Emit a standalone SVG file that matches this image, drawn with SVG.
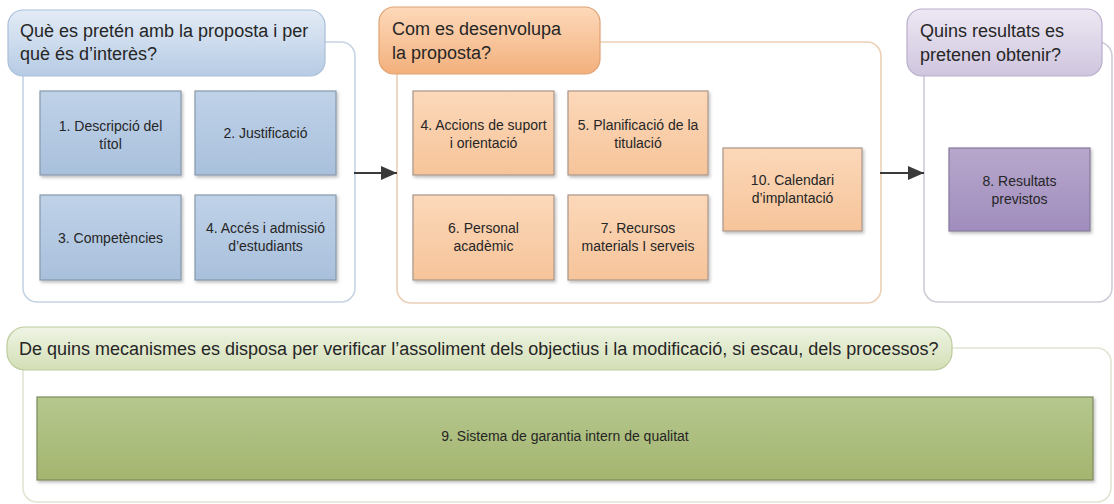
<svg xmlns="http://www.w3.org/2000/svg" width="1114" height="504" viewBox="0 0 1114 504">
<defs>
  <linearGradient id="gBlueH" x1="0" y1="0" x2="0" y2="1"><stop offset="0" stop-color="#e3ecf6"/><stop offset="1" stop-color="#b6cbe4"/></linearGradient>
  <linearGradient id="gOrgH" x1="0" y1="0" x2="0" y2="1"><stop offset="0" stop-color="#fdd9ba"/><stop offset="1" stop-color="#f3b07c"/></linearGradient>
  <linearGradient id="gPurH" x1="0" y1="0" x2="0" y2="1"><stop offset="0" stop-color="#ede8f3"/><stop offset="1" stop-color="#cfc5de"/></linearGradient>
  <linearGradient id="gGrnH" x1="0" y1="0" x2="0" y2="1"><stop offset="0" stop-color="#eff4e4"/><stop offset="1" stop-color="#d3dfb6"/></linearGradient>
  <linearGradient id="gBlueB" x1="0" y1="0" x2="0" y2="1"><stop offset="0" stop-color="#bfd2e8"/><stop offset="1" stop-color="#a9c0dc"/></linearGradient>
  <linearGradient id="gOrgB" x1="0" y1="0" x2="0" y2="1"><stop offset="0" stop-color="#fcd8b9"/><stop offset="1" stop-color="#f6c49a"/></linearGradient>
  <linearGradient id="gPurB" x1="0" y1="0" x2="0" y2="1"><stop offset="0" stop-color="#b7a7cb"/><stop offset="1" stop-color="#a08dbe"/></linearGradient>
  <linearGradient id="gGrnB" x1="0" y1="0" x2="0" y2="1"><stop offset="0" stop-color="#b6c78f"/><stop offset="1" stop-color="#a3b56e"/></linearGradient>
  <filter id="sh" x="-10%" y="-10%" width="120%" height="130%">
    <feDropShadow dx="1.5" dy="2" stdDeviation="1.5" flood-color="#000" flood-opacity="0.25"/>
  </filter>
  <marker id="arr" viewBox="0 0 16 14" refX="16" refY="7" markerWidth="16" markerHeight="14" markerUnits="userSpaceOnUse" orient="auto">
    <path d="M0,0 L16,7 L0,14 Z" fill="#3a3a3a"/>
  </marker>
  <style>
    .hd { font-family: "Liberation Sans", Arial, sans-serif; font-size: 18px; fill: #262626; }
    .bx { font-family: "Liberation Sans", Arial, sans-serif; font-size: 14px; fill: #262626; text-anchor: middle; }
    .cont { fill: #ffffff; stroke-width: 1.6; }
    .box { stroke-width: 1.2; filter: url(#sh); }
    .tab { stroke-width: 1.2; }
    .conn { stroke: #3a3a3a; stroke-width: 2.2; fill: none; marker-end: url(#arr); }
  </style>
</defs>
<rect width="1114" height="504" fill="#ffffff"/>

<g id="section-blue">
  <rect class="cont" x="23" y="42" width="332" height="260" rx="14" stroke="#c6d4e5"/>
  <rect class="tab" x="8" y="10" width="317" height="66" rx="15" fill="url(#gBlueH)" stroke="#a9bfd9"/>
  <text class="hd" x="20" y="37">Què es pretén amb la proposta i per</text>
  <text class="hd" x="20" y="60">què és d’interès?</text>
</g>
<g id="n1"><rect class="box" x="40" y="91" width="141" height="84" fill="url(#gBlueB)" stroke="#8798aa"/>
  <text class="bx" x="110.5" y="131">1. Descripció del</text><text class="bx" x="110.5" y="149">títol</text></g>
<g id="n2"><rect class="box" x="195" y="91" width="141" height="84" fill="url(#gBlueB)" stroke="#8798aa"/>
  <text class="bx" x="265.5" y="138">2. Justificació</text></g>
<g id="n3"><rect class="box" x="40" y="195" width="141" height="85" fill="url(#gBlueB)" stroke="#8798aa"/>
  <text class="bx" x="110.5" y="243">3. Competències</text></g>
<g id="n4a"><rect class="box" x="195" y="195" width="141" height="85" fill="url(#gBlueB)" stroke="#8798aa"/>
  <text class="bx" x="265.5" y="233">4. Accés i admissió</text><text class="bx" x="265.5" y="251">d’estudiants</text></g>

<g id="section-orange">
  <rect class="cont" x="397" y="42" width="484" height="261" rx="14" stroke="#ecd0b6"/>
  <rect class="tab" x="379" y="7" width="221" height="67" rx="15" fill="url(#gOrgH)" stroke="#dfa173"/>
  <text class="hd" x="392" y="35">Com es desenvolupa</text>
  <text class="hd" x="392" y="59">la proposta?</text>
</g>
<g id="n4b"><rect class="box" x="413" y="91" width="141" height="84" fill="url(#gOrgB)" stroke="#a8968a"/>
  <text class="bx" x="483.5" y="130">4. Accions de suport</text><text class="bx" x="483.5" y="148">i orientació</text></g>
<g id="n5"><rect class="box" x="568" y="91" width="140" height="84" fill="url(#gOrgB)" stroke="#a8968a"/>
  <text class="bx" x="638" y="130">5. Planificació de la</text><text class="bx" x="638" y="148">titulació</text></g>
<g id="n6"><rect class="box" x="413" y="195" width="141" height="85" fill="url(#gOrgB)" stroke="#a8968a"/>
  <text class="bx" x="483.5" y="233">6. Personal</text><text class="bx" x="483.5" y="251">acadèmic</text></g>
<g id="n7"><rect class="box" x="568" y="195" width="140" height="85" fill="url(#gOrgB)" stroke="#a8968a"/>
  <text class="bx" x="638" y="233">7. Recursos</text><text class="bx" x="638" y="251">materials I serveis</text></g>
<g id="n10"><rect class="box" x="723" y="148" width="139" height="83" fill="url(#gOrgB)" stroke="#a8968a"/>
  <text class="bx" x="792.5" y="185">10. Calendari</text><text class="bx" x="792.5" y="203">d’implantació</text></g>

<g id="section-purple">
  <rect class="cont" x="924" y="42" width="188" height="260" rx="14" stroke="#cfcbd8"/>
  <rect class="tab" x="907" y="9" width="195" height="67" rx="15" fill="url(#gPurH)" stroke="#b9adcb"/>
  <text class="hd" x="920" y="37">Quins resultats es</text>
  <text class="hd" x="920" y="61">pretenen obtenir?</text>
</g>
<g id="n8"><rect class="box" x="949" y="148" width="141" height="83" fill="url(#gPurB)" stroke="#847a99"/>
  <text class="bx" x="1019.5" y="186">8. Resultats</text><text class="bx" x="1019.5" y="204">previstos</text></g>

<g id="section-green">
  <rect class="cont" x="23" y="348" width="1088" height="154" rx="14" stroke="#e0e5d4"/>
  <rect class="tab" x="7" y="327" width="945" height="43" rx="18" fill="url(#gGrnH)" stroke="#bccb9e"/>
  <text class="hd" x="19" y="355">De quins mecanismes es disposa per verificar l’assoliment dels objectius i la modificació, si escau, dels processos?</text>
</g>
<g id="n9"><rect class="box" x="37" y="397" width="1056" height="83" fill="url(#gGrnB)" stroke="#7d8a5d"/>
  <text class="bx" x="565" y="441">9. Sistema de garantia intern de qualitat</text></g>

<g id="connectors">
  <line class="conn" x1="354" y1="173" x2="397" y2="173"/>
  <line class="conn" x1="880" y1="173" x2="924" y2="173"/>
</g>
</svg>
